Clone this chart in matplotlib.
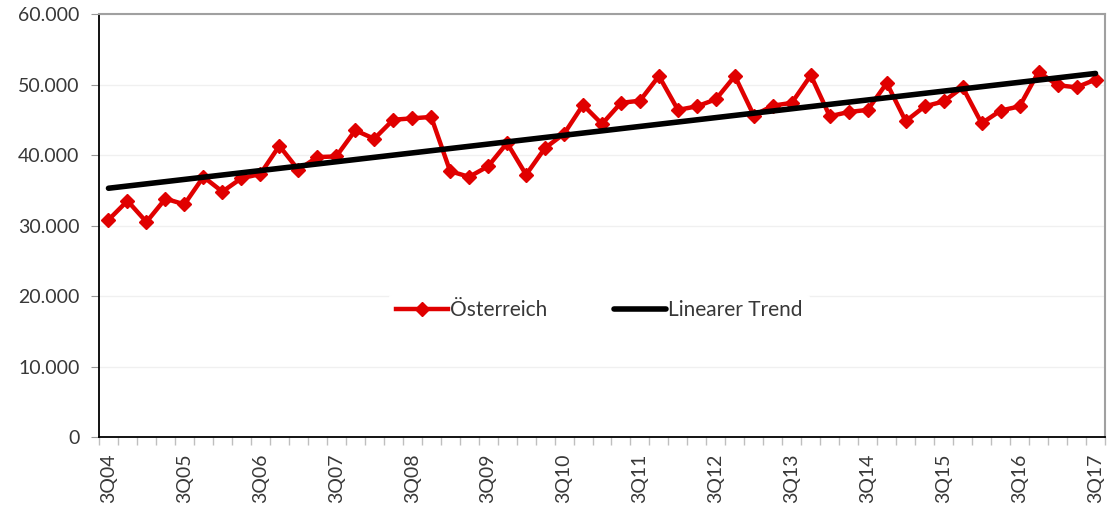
#!/usr/bin/env python3
import numpy as np
import matplotlib.pyplot as plt
from matplotlib.ticker import FuncFormatter

OUT_PATH = "out.png"

# quarterly values, 3Q04 .. 3Q17
quarters = [f"{q}Q{y:02d}" for y in range(4, 18) for q in (1, 2, 3, 4)][2:-1]
oesterreich = [
    30800, 33500, 30500, 33800, 33000, 36900, 34800, 36700, 37300, 41300,
    37900, 39700, 39800, 43500, 42300, 45000, 45200, 45400, 37700, 36900,
    38400, 41700, 37200, 41000, 43000, 47100, 44400, 47400, 47700, 51200,
    46400, 46900, 47900, 51200, 45600, 47000, 47400, 51300, 45500, 46100,
    46400, 50200, 44800, 46900, 47600, 49600, 44500, 46300, 46900, 51800,
    49900, 49600, 50700,
]
label_step = 4

RED = "#e00000"
TXT = "#383838"


def main():
    plt.rcParams["font.family"] = ["Lato", "DejaVu Sans"]

    fig = plt.figure(figsize=(11.13, 5.08), dpi=100)
    ax = fig.add_axes([99 / 1113, 1 - 437 / 508, (1105 - 99) / 1113, (437 - 14) / 508])

    x = np.arange(len(oesterreich))
    y = np.array(oesterreich, dtype=float)
    slope, icpt = np.polyfit(x, y, 1)

    ax.plot(x, y, color=RED, lw=3.2, marker="D", ms=7, mec=RED, mfc=RED,
            label="Österreich", zorder=3)
    ax.plot(x, slope * x + icpt, color="black", lw=4, solid_capstyle="round",
            label="Linearer Trend", zorder=4)

    ax.set_xlim(-0.5, len(x) - 0.5)
    ax.set_ylim(0, 60000)
    ax.set_yticks(range(0, 60001, 10000))
    ax.yaxis.set_major_formatter(FuncFormatter(lambda v, p: f"{int(v):,}".replace(",", ".")))
    ax.grid(axis="y", color="#f0f0f0", lw=1)
    ax.set_axisbelow(True)

    ax.set_xticks(x[::label_step])
    ax.set_xticklabels(quarters[::label_step], rotation=90)
    ax.set_xticks(np.arange(-0.5, len(x), 1), minor=True)
    ax.tick_params(axis="x", which="major", length=0, pad=12, labelsize=14, labelcolor=TXT)
    ax.tick_params(axis="x", which="minor", length=6, color="#bfbfbf", width=1)
    ax.tick_params(axis="y", length=6, color="#999999", labelsize=14, labelcolor=TXT, pad=8)

    for side in ("left", "bottom"):
        ax.spines[side].set_color("black")
        ax.spines[side].set_linewidth(1.3)
    for side in ("top", "right"):
        ax.spines[side].set_color("#a0a0a0")
        ax.spines[side].set_linewidth(1.5)

    leg = ax.legend(loc="center", bbox_to_anchor=(0.497, 0.30), ncol=2, frameon=True,
                    fontsize=15, handlelength=2.5, handletextpad=0.1, columnspacing=3.2,
                    borderpad=0.3)
    leg.get_frame().set_edgecolor("white")
    leg.get_frame().set_facecolor("white")
    leg.get_frame().set_alpha(1)
    for t in leg.get_texts():
        t.set_color(TXT)

    plt.savefig(OUT_PATH, dpi=100)
    plt.close(fig)


if __name__ == "__main__":
    main()
